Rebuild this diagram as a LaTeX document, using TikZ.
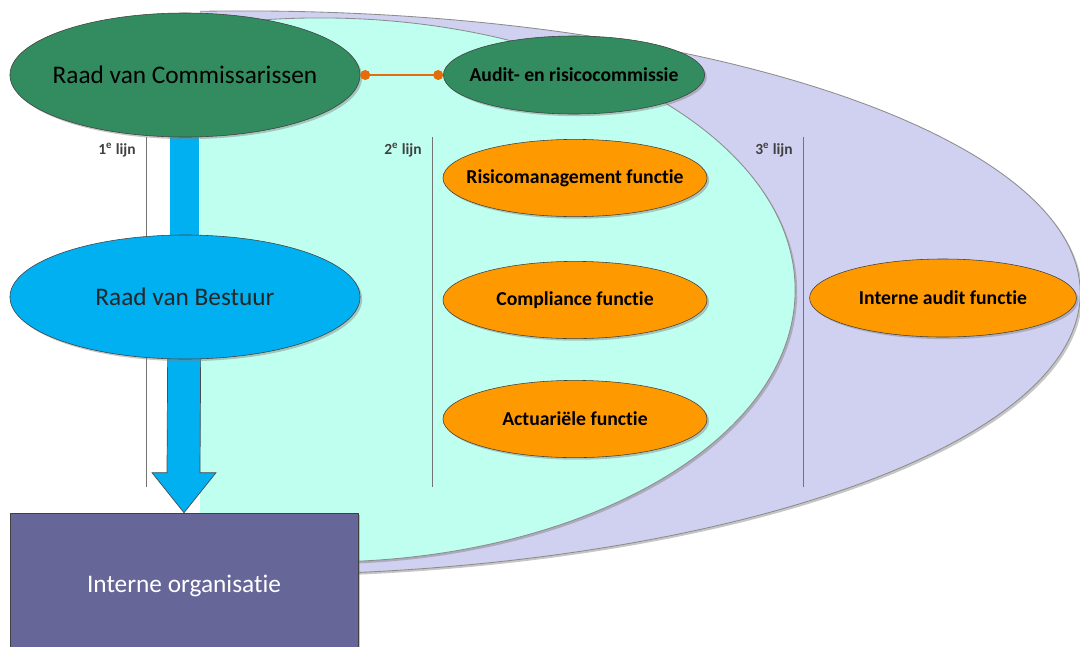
\documentclass[tikz,border=0pt]{standalone}
\usepackage{fontspec}
\setmainfont{Carlito}[Ligatures=NoCommon]
\usetikzlibrary{arrows, arrows.meta, backgrounds, positioning, calc, shapes.geometric, shadows}
\tikzset{>=stealth}

\definecolor{raadgreen}{RGB}{50,140,95}
\definecolor{functieorange}{RGB}{255,153,0}
\definecolor{bestuurblue}{RGB}{0,176,240}
\definecolor{organisatiepurple}{RGB}{102,102,153}
\definecolor{lijnlavender}{RGB}{208,208,240}
\definecolor{lijncyan}{RGB}{191,255,239}
\definecolor{linkorange}{RGB}{228,108,10}

\begin{document}
\begin{tikzpicture}[x=0.025cm, y=-0.025cm,
	softshadow/.style={drop shadow={shadow xshift=1.5pt, shadow yshift=-1.5pt, opacity=0.45}},
	raad/.style={ellipse, draw=black!75, minimum width=8.75cm, minimum height=3.1cm, inner xsep=-3cm, inner ysep=0pt, font=\fontsize{18}{20}\selectfont, softshadow},
	functie/.style={ellipse, draw=black!75, fill=functieorange, minimum width=6.6cm, minimum height=1.93cm, inner xsep=-3cm, inner ysep=0pt, font=\bfseries\fontsize{14}{16}\selectfont, softshadow},
	lijnlabel/.style={font=\bfseries\fontsize{11}{12}\selectfont, text=black!75, inner sep=0pt},
	lijn/.style={draw=black!55, line width=0.6pt},
	zone/.style={draw=black!45, line width=0.6pt, softshadow}]

    \useasboundingbox (0,0) rectangle (1080,646);

    % governance
    \node[raad, fill=raadgreen]	(RvC)	at	(185,75)	{Raad van Commissarissen};
    \node[raad, fill=raadgreen, minimum width=6.53cm, minimum height=1.95cm, font=\bfseries\fontsize{14}{16}\selectfont]	(ARC)	at	(574,75)	{Audit- en risicocommissie};
    \node[raad, fill=bestuurblue, text=black!85]	(RvB)	at	(185,297)	{Raad van Bestuur};
    \node[rectangle, draw=black!75, fill=organisatiepurple, text=white, minimum width=8.7cm, minimum height=3.65cm, font=\fontsize{18}{20}\selectfont, softshadow]	(IO)	at	(184,586)	{Interne organisatie};

    % functies
    \node[functie]	(RMF)	at	(575,178)	{Risicomanagement functie};
    \node[functie]	(CF)	at	(575,300)	{Compliance functie};
    \node[functie]	(AF)	at	(575,419)	{Actuariële functie};
    \node[functie, minimum width=6.67cm, minimum height=1.95cm]	(IAF)	at	(943,298)	{Interne audit functie};

    \draw[linkorange, line width=1.8pt, {Circle[length=7pt]}-{Circle[length=7pt]}] (RvC.east) -- (ARC.west);

    \begin{scope}[on background layer]
    \begin{scope}
        \clip (200,0) rectangle (1080,646);
        \path[zone, fill=lijnlavender] (244,293) ellipse [x radius=20.9cm, y radius=7.05cm];
        \path[zone, fill=lijncyan] (320,290) ellipse [x radius=11.875cm, y radius=6.8cm];
    \end{scope}

    % lijnen
    \foreach \n/\x in {1/146, 2/432, 3/803} {
        \coordinate (T\n) at (\x,137);
        \coordinate (B\n) at (\x,487);
        \draw[lijn] (T\n) -- (B\n);
        \node[lijnlabel, anchor=north east] (L\n) at ($(T\n)+(-10,6)$) {\n\textsuperscript{e} lijn};
    }

    % sturing
    \fill[bestuurblue] ($(RvC.center)+(-15,0)$) rectangle ($(RvB.center)+(14,0)$);
    \draw[black!70, line width=0.5pt, fill=bestuurblue]
        ($(RvB.center)+(-17,0)$) -- ($(IO.north)+(-17,-40)$) -- ($(IO.north)+(-32,-40)$)
        -- (IO.north) -- ($(IO.north)+(32,-40)$) -- ($(IO.north)+(16,-40)$)
        -- ($(RvB.center)+(16,0)$) -- cycle;
    \end{scope}
\end{tikzpicture}
\end{document}
